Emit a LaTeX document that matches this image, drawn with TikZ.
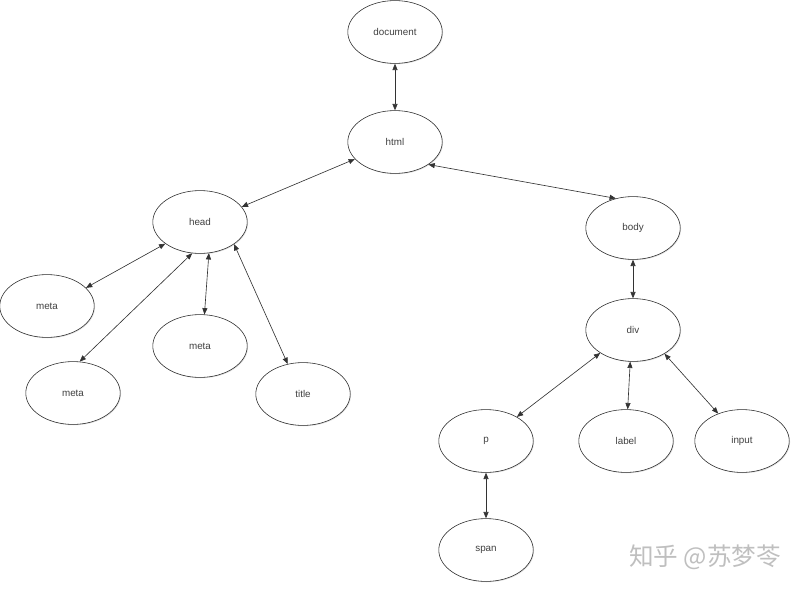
\documentclass[tikz,border=0pt]{standalone}
\usepackage{fontspec}
\setmainfont{Liberation Sans}
\newfontfamily\cjkfont{Noto Sans CJK SC}
\usetikzlibrary{arrows.meta,shapes.geometric,shadows}

\begin{document}
\begin{tikzpicture}[x=0.025cm, y=-0.025cm,
		elem/.style={draw=black!85, ellipse, fill=white, inner sep=0pt, minimum width=2.36cm, minimum height=1.57cm, text=black!75, font=\fontsize{7}{8}\selectfont, drop shadow={opacity=0.25, shadow xshift=0.6pt, shadow yshift=-0.6pt}},
		link/.style={{Triangle[length=4.5pt,width=3.6pt]}-{Triangle[length=4.5pt,width=3.6pt]}, draw=black!80, line width=0.45pt}]
		\useasboundingbox (0,0) rectangle (800,592);

		% Nodes
		\node[elem] (document) at (395,32) {document};
		\node[elem] (html) at (395,142) {html};
		\node[elem] (head) at (200,222) {head};
		\node[elem] (body) at (633,228) {body};
		\node[elem] (meta1) at (47,306) {meta};
		\node[elem] (meta2) at (200,346) {meta};
		\node[elem] (meta3) at (73,393) {meta};
		\node[elem] (title) at (303,394) {title};
		\node[elem] (div) at (633,330) {div};
		\node[elem] (p) at (486,441) {p};
		\node[elem] (label) at (626,441) {label};
		\node[elem] (input) at (742,441) {input};
		\node[elem] (span) at (486,550) {span};

		% Watermark
		\node[text=black!25, font=\cjkfont\fontsize{17.5}{19}\selectfont] (mark) at (705,557) {知乎 @苏梦苓};

		% Links
		\draw[link] (document.south) -- (html.north);
		\draw[link] (html.203) -- (head.20);
		\draw[link] (html.326) -- (body.120);
		\draw[link] (head.212) -- (meta1.25);
		\draw[link] (head.256) -- (meta3.78);
		\draw[link] (head.286) -- (meta2.82);
		\draw[link] (head.327) -- (title.117);
		\draw[link] (body.south) -- (div.north);
		\draw[link] (div.215) -- (p.38);
		\draw[link] (div.265) -- (label.87);
		\draw[link] (div.323) -- (input.131);
		\draw[link] (p.south) -- (span.north);
	\end{tikzpicture}
\end{document}
